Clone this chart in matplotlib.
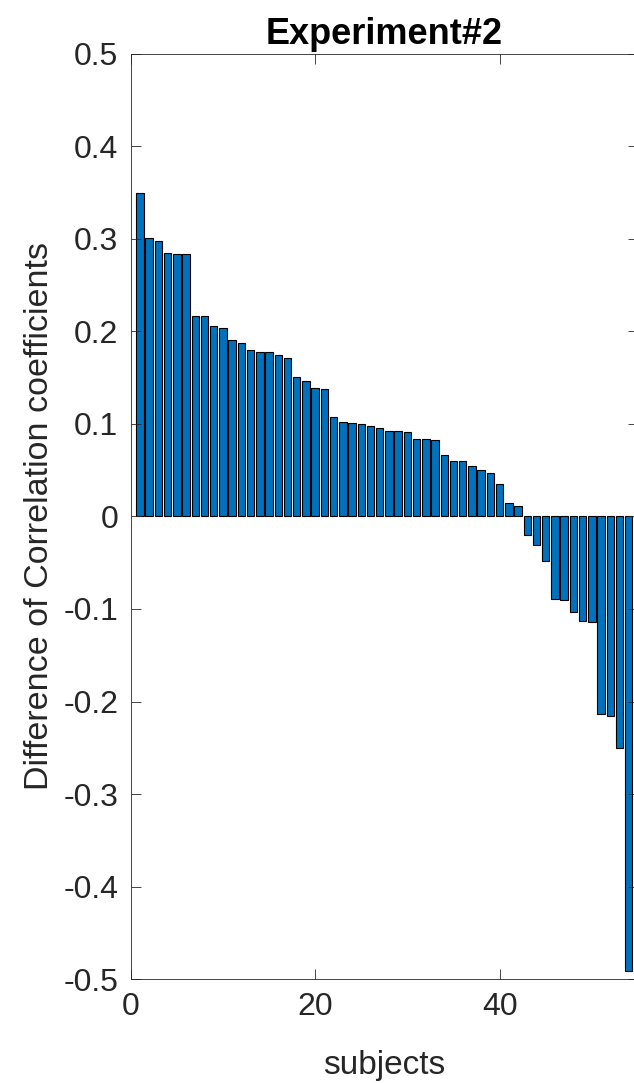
import numpy as np
import matplotlib
matplotlib.use("Agg")
import matplotlib.pyplot as plt

plt.rcParams['font.family'] = ['Liberation Sans', 'DejaVu Sans']

# difference of correlation coefficients per subject (sorted)
diff_corr = [
    0.349, 0.301, 0.297, 0.285, 0.283, 0.283, 0.216, 0.216, 0.206, 0.204,
    0.191, 0.187, 0.180, 0.178, 0.178, 0.174, 0.171, 0.151, 0.146, 0.139,
    0.138, 0.107, 0.102, 0.101, 0.100, 0.098, 0.095, 0.092, 0.092, 0.091,
    0.084, 0.084, 0.082, 0.066, 0.060, 0.060, 0.054, 0.050, 0.047, 0.035,
    0.014, 0.011,
    -0.020, -0.031, -0.048, -0.089, -0.090, -0.103, -0.113, -0.114,
    -0.214, -0.216, -0.250, -0.491,
]
subjects = np.arange(1, len(diff_corr) + 1)
xticks = [0, 20, 40]
yticks = [-0.5, -0.4, -0.3, -0.2, -0.1, 0, 0.1, 0.2, 0.3, 0.4, 0.5]

fig = plt.figure(figsize=(6.34, 10.83), dpi=100)
ax = fig.add_axes([0.2062, 0.0958, 0.8, 0.8548])

ax.bar(subjects, diff_corr, width=0.8, color="#0072BD",
       edgecolor="black", linewidth=0.8)

ax.set_xlim(0, 55)
ax.set_ylim(-0.5, 0.5)
ax.set_xticks(xticks)
ax.set_yticks(yticks)
ax.set_yticklabels(["%g" % v for v in yticks])

gris = "#262626"
for s in ax.spines.values():
    s.set_color(gris)
    s.set_linewidth(0.6)
ax.tick_params(direction="in", length=7, width=0.6, color=gris,
               labelcolor=gris, labelsize=23, top=True, right=True, pad=9)

ax.set_xlabel("subjects", fontsize=24, color=gris, labelpad=20)
ax.set_ylabel("Difference of Correlation coefficients", fontsize=24.5,
              color=gris, labelpad=6)
ax.set_title("Experiment#2", fontsize=26, fontweight="bold", pad=7)

fig.savefig("out.png", dpi=100)
